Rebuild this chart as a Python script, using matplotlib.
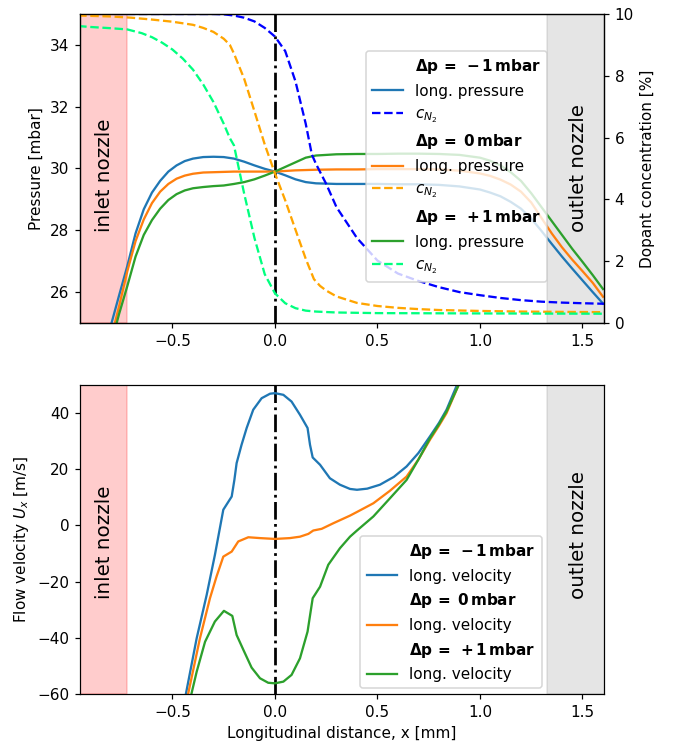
import matplotlib
matplotlib.use("Agg")
import matplotlib.pyplot as plt
from matplotlib.lines import Line2D

# ---------------- data ----------------
# longitudinal pressure [mbar] along x [mm]
x_p = [-0.84, -0.80, -0.76, -0.72, -0.68, -0.64, -0.60, -0.56, -0.52, -0.48,
       -0.44, -0.40, -0.35, -0.30, -0.25, -0.20, -0.15, -0.10, -0.05, 0.00,
       0.05, 0.10, 0.15, 0.20, 0.30, 0.40, 0.50, 0.60, 0.70, 0.80,
       0.90, 1.00, 1.05, 1.10, 1.15, 1.20, 1.25, 1.30, 1.35, 1.40,
       1.45, 1.50, 1.55, 1.60]
p_minus = [24.0, 24.93, 25.9, 26.85, 27.9, 28.68, 29.22, 29.6, 29.9, 30.1,
           30.24, 30.32, 30.37, 30.38, 30.37, 30.32, 30.22, 30.1, 29.99, 29.9,
           29.78, 29.65, 29.56, 29.52, 29.5, 29.5, 29.5, 29.49, 29.49, 29.47,
           29.42, 29.32, 29.22, 29.1, 28.92, 28.7, 28.38, 27.98, 27.56, 27.15,
           26.76, 26.38, 26.0, 25.63]
p_zero = [23.5, 24.5, 25.55, 26.68, 27.65, 28.35, 28.88, 29.25, 29.5, 29.67,
          29.77, 29.83, 29.87, 29.88, 29.89, 29.9, 29.9, 29.9, 29.9, 29.9,
          29.92, 29.94, 29.95, 29.96, 29.97, 29.97, 29.98, 29.98, 29.98, 29.97,
          29.93, 29.84, 29.76, 29.64, 29.48, 29.25, 28.9, 28.4, 27.9, 27.45,
          27.05, 26.68, 26.3, 25.85]
p_plus = [23.4, 24.3, 25.3, 26.2, 27.15, 27.85, 28.33, 28.7, 28.98, 29.17,
          29.29, 29.36, 29.4, 29.43, 29.45, 29.5, 29.56, 29.65, 29.77, 29.9,
          30.05, 30.2, 30.35, 30.42, 30.46, 30.47, 30.47, 30.48, 30.48, 30.47,
          30.44, 30.35, 30.25, 30.1, 29.88, 29.6, 29.2, 28.75, 28.3, 27.85,
          27.4, 26.98, 26.55, 26.1]

# N2 dopant concentration [%]
x_c_minus = [-0.96, -0.80, -0.60, -0.40, -0.30, -0.25, -0.20, -0.15, -0.10, -0.05,
             0.00, 0.05, 0.10, 0.15, 0.18, 0.20, 0.25, 0.30, 0.40, 0.50,
             0.60, 0.70, 0.80, 0.90, 1.00, 1.10, 1.20, 1.30, 1.40, 1.50, 1.62]
c_minus = [10.0, 10.0, 10.0, 10.0, 10.0, 9.99, 9.95, 9.88, 9.76, 9.55,
           9.27, 8.8, 7.82, 6.45, 5.45, 5.15, 4.5, 3.75, 2.75, 2.02,
           1.6, 1.36, 1.16, 1.0, 0.9, 0.81, 0.74, 0.69, 0.66, 0.64, 0.62]
x_c_zero = [-0.96, -0.90, -0.80, -0.70, -0.60, -0.50, -0.40, -0.35, -0.30, -0.25,
            -0.22, -0.20, -0.15, -0.10, -0.05, 0.00, 0.05, 0.10, 0.15, 0.19,
            0.22, 0.25, 0.30, 0.40, 0.50, 0.60, 0.70, 0.80, 1.00, 1.20, 1.40, 1.62]
c_zero = [9.95, 9.94, 9.92, 9.88, 9.82, 9.75, 9.65, 9.55, 9.42, 9.2,
          9.0, 8.72, 7.9, 6.85, 5.78, 4.84, 3.97, 3.02, 2.08, 1.42,
          1.2, 1.05, 0.86, 0.65, 0.55, 0.49, 0.45, 0.42, 0.39, 0.37, 0.36, 0.35]
x_c_plus = [-0.96, -0.90, -0.80, -0.72, -0.65, -0.60, -0.55, -0.50, -0.45, -0.40,
            -0.35, -0.30, -0.25, -0.22, -0.20, -0.15, -0.10, -0.05, 0.00, 0.05,
            0.10, 0.15, 0.20, 0.30, 0.50, 1.00, 1.62]
c_plus = [9.61, 9.58, 9.54, 9.5, 9.38, 9.25, 9.07, 8.85, 8.56, 8.2,
          7.72, 7.15, 6.45, 5.98, 5.75, 4.18, 2.75, 1.58, 0.96, 0.64,
          0.48, 0.4, 0.37, 0.34, 0.32, 0.31, 0.3]

# longitudinal flow velocity U_x [m/s]
x_u_minus = [-0.46, -0.434, -0.382, -0.333, -0.293, -0.252, -0.211, -0.198, -0.187,
             -0.163, -0.138, -0.106, -0.065, -0.024, 0.0, 0.041, 0.081, 0.122,
             0.159, 0.171, 0.184, 0.22, 0.268, 0.317, 0.366, 0.40, 0.45, 0.512,
             0.58, 0.642, 0.70, 0.756, 0.80, 0.837, 0.886, 0.92]
u_minus = [-70.0, -59.8, -40.2, -24.7, -10.5, 5.6, 10.3, 16.2, 22.2,
           28.7, 34.7, 41.2, 45.3, 46.9, 47.1, 46.5, 44.1, 39.4,
           34.7, 28.7, 24.2, 21.6, 16.8, 14.5, 13.0, 12.7, 13.1, 14.5,
           17.3, 21.0, 25.8, 31.7, 36.5, 41.2, 49.7, 56.0]
x_u_zero = [-0.45, -0.423, -0.366, -0.317, -0.285, -0.252, -0.211, -0.179, -0.13,
            -0.073, 0.0, 0.073, 0.122, 0.163, 0.187, 0.228, 0.285, 0.366,
            0.40, 0.48, 0.56, 0.642, 0.70, 0.756, 0.80, 0.837, 0.894, 0.92]
u_zero = [-70.0, -59.8, -40.2, -25.9, -18.2, -11.1, -9.3, -5.7, -4.2,
          -4.5, -4.8, -4.5, -4.0, -3.0, -1.8, -1.2, 0.8, 3.5,
          4.8, 7.9, 12.3, 17.4, 23.5, 30.5, 35.5, 40.0, 49.7, 55.0]
x_u_plus = [-0.43, -0.407, -0.382, -0.341, -0.293, -0.249, -0.208, -0.187, -0.154,
            -0.114, -0.073, -0.033, 0.0, 0.041, 0.081, 0.122, 0.159, 0.184,
            0.22, 0.26, 0.317, 0.366, 0.40, 0.48, 0.56, 0.642, 0.70, 0.756,
            0.80, 0.837, 0.894, 0.92]
u_plus = [-68.0, -59.8, -52.1, -41.4, -34.2, -30.4, -32.2, -39.0, -44.3,
          -50.6, -54.4, -56.0, -56.2, -55.6, -53.2, -47.3, -37.8, -25.9,
          -21.8, -14.0, -8.1, -4.0, -1.8, 3.2, 9.6, 16.2, 23.5, 31.0,
          36.0, 40.6, 49.7, 55.0]

# bold legend headers; relation and operator spacing written out explicitly
headers = [r"$\mathbf{\Delta p\,=\;\:-\,1\,mbar}$",
           r"$\mathbf{\Delta p\,=\;0\,mbar}$",
           r"$\mathbf{\Delta p\,=\;\:+\,1\,mbar}$"]

inlet_span = (-1.0, -0.723)
outlet_span = (1.328, 1.7)

# ---------------- figure ----------------
DPI = 110
fig = plt.figure(figsize=(674 / DPI, 742 / DPI), dpi=DPI)
W, H = 674.0, 742.0
ax1 = fig.add_axes([80 / W, 1 - 323 / H, 524 / W, 309 / H])
ax3 = fig.add_axes([80 / W, 1 - 694 / H, 524 / W, 309 / H])

xlim = (-0.951, 1.605)
xticks = [-0.5, 0.0, 0.5, 1.0, 1.5]

def nozzles(ax, y_in, y_out):
    ax.axvspan(*inlet_span, color="red", alpha=0.2)
    ax.axvspan(*outlet_span, color="gray", alpha=0.2)
    ax.text(-0.83, y_in, "inlet nozzle", rotation=90, fontsize=13,
            ha="center", va="center", transform=ax.get_xaxis_transform())
    ax.text(1.48, y_out, "outlet nozzle", rotation=90, fontsize=13,
            ha="center", va="center", transform=ax.get_xaxis_transform())
    ax.axvline(0.0, color="k", ls="-.", lw=1.8)

# ---- top: pressure and dopant concentration ----
nozzles(ax1, 0.477, 0.50)
l1, = ax1.plot(x_p, p_minus, color="C0", lw=1.5)
l2, = ax1.plot(x_p, p_zero, color="C1", lw=1.5)
l3, = ax1.plot(x_p, p_plus, color="C2", lw=1.5)
ax1.set_xlim(*xlim)
ax1.set_ylim(25, 35)
ax1.set_yticks([26, 28, 30, 32, 34])
ax1.set_xticks(xticks)
ax1.set_ylabel("Pressure [mbar]")

ax2 = ax1.twinx()
d1, = ax2.plot(x_c_minus, c_minus, color="blue", ls="--", lw=1.5)
d2, = ax2.plot(x_c_zero, c_zero, color="orange", ls="--", lw=1.5)
d3, = ax2.plot(x_c_plus, c_plus, color="springgreen", ls="--", lw=1.5)
ax2.set_ylim(0, 10)
ax2.set_yticks([0, 2, 4, 6, 8, 10])
ax2.set_ylabel("Dopant concentration [%]")

blank = [Line2D([], [], linestyle="none") for _ in range(3)]
handles_top = [blank[0], l1, d1, blank[1], l2, d2, blank[2], l3, d3]
labels_top = [headers[0], "long. pressure", r"$c_{N_2}$",
              headers[1], "long. pressure", r"$c_{N_2}$",
              headers[2], "long. pressure", r"$c_{N_2}$"]
ax2.legend(handles_top, labels_top, loc="upper right",
           bbox_to_anchor=(0.892, 0.881), borderaxespad=0.0)

# ---- bottom: flow velocity ----
nozzles(ax3, 0.491, 0.515)
v1, = ax3.plot(x_u_minus, u_minus, color="C0", lw=1.5)
v2, = ax3.plot(x_u_zero, u_zero, color="C1", lw=1.5)
v3, = ax3.plot(x_u_plus, u_plus, color="C2", lw=1.5)
ax3.set_xlim(*xlim)
ax3.set_ylim(-60, 50)
ax3.set_yticks([-60, -40, -20, 0, 20, 40])
ax3.set_xticks(xticks)
ax3.set_ylabel(r"Flow velocity $U_x$ [m/s]")
ax3.set_xlabel("Longitudinal distance, x [mm]")

handles_bot = [blank[0], v1, blank[1], v2, blank[2], v3]
labels_bot = [headers[0], "long. velocity", headers[1], "long. velocity",
              headers[2], "long. velocity"]
ax3.legend(handles_bot, labels_bot, loc="lower right",
           bbox_to_anchor=(0.881, 0.018), borderaxespad=0.0)

fig.savefig("out.png", dpi=DPI)
